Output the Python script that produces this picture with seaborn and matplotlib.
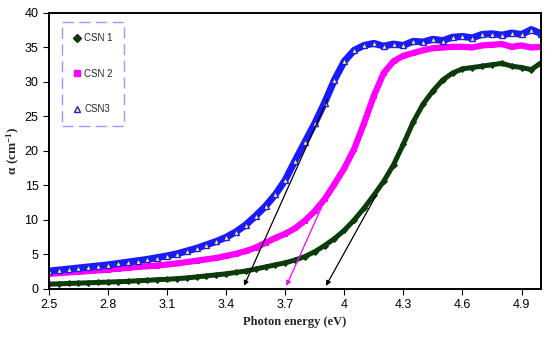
import numpy as np
import pandas as pd
import matplotlib
matplotlib.use('Agg')
import matplotlib.pyplot as plt
from matplotlib.lines import Line2D
import seaborn as sns

# photon energy grid (eV), every 0.05 eV
energy = [2.50, 2.55, 2.60, 2.65, 2.70, 2.75, 2.80, 2.85, 2.90, 2.95,
          3.00, 3.05, 3.10, 3.15, 3.20, 3.25, 3.30, 3.35, 3.40, 3.45,
          3.50, 3.55, 3.60, 3.65, 3.70, 3.75, 3.80, 3.85, 3.90, 3.95,
          4.00, 4.05, 4.10, 4.15, 4.20, 4.25, 4.30, 4.35, 4.40, 4.45,
          4.50, 4.55, 4.60, 4.65, 4.70, 4.75, 4.80, 4.85, 4.90, 4.95,
          5.00]

csn1 = [0.7, 0.75, 0.8, 0.85, 0.9, 0.95, 1.0, 1.05, 1.1, 1.2,
        1.25, 1.35, 1.4, 1.5, 1.6, 1.75, 1.9, 2.05, 2.2, 2.4,
        2.6, 2.9, 3.2, 3.5, 3.8, 4.2, 4.7, 5.4, 6.3, 7.3,
        8.5, 10.0, 11.7, 13.6, 15.6, 18.0, 21.0, 24.2, 26.8, 28.7,
        30.3, 31.3, 31.9, 32.1, 32.3, 32.5, 32.7, 32.3, 32.1, 31.8,
        32.8]

csn2 = [2.2, 2.3, 2.4, 2.5, 2.6, 2.7, 2.8, 2.95, 3.05, 3.2,
        3.3, 3.4, 3.55, 3.7, 3.9, 4.1, 4.3, 4.5, 4.8, 5.1,
        5.5, 6.0, 6.7, 7.4, 8.0, 8.8, 9.9, 11.3, 13.0, 15.2,
        17.5, 20.3, 24.0, 28.0, 31.3, 33.0, 33.8, 34.2, 34.6, 34.9,
        35.0, 35.1, 35.1, 35.0, 35.3, 35.4, 35.5, 35.1, 35.3, 35.0,
        35.1]

csn3 = [2.6, 2.75, 2.9, 3.05, 3.2, 3.35, 3.5, 3.7, 3.9, 4.1,
        4.3, 4.55, 4.8, 5.1, 5.5, 5.9, 6.4, 6.9, 7.5, 8.3,
        9.3, 10.6, 12.0, 13.7, 15.8, 18.6, 21.3, 24.0, 27.0, 30.3,
        33.0, 34.6, 35.3, 35.6, 35.2, 35.5, 35.3, 35.9, 35.8, 36.2,
        36.0, 36.5, 36.6, 36.4, 36.9, 37.0, 36.8, 37.1, 36.9, 37.6,
        37.0]

# tangent lines: (start E, start alpha) -> (band gap E, 0)
tangents = [(3.92, 27.8, 3.485, 0.1, 'black'),
            (3.89, 12.2, 3.70, 0.1, '#ff00ff'),
            (4.17, 14.0, 3.90, 0.1, 'black')]

df = pd.DataFrame({'E': energy, 'CSN 1': csn1, 'CSN 2': csn2, 'CSN3': csn3})

sns.set_style('white')
plt.rcParams['font.family'] = ['Liberation Sans', 'DejaVu Sans']
plt.rcParams['mathtext.fontset'] = 'custom'
plt.rcParams['mathtext.rm'] = 'Liberation Serif:bold'
plt.rcParams['mathtext.it'] = 'Liberation Serif:bold'
plt.rcParams['mathtext.bf'] = 'Liberation Serif:bold'

fig = plt.figure(figsize=(5.5, 3.42), dpi=100)
ax = fig.add_axes([0.089, 0.155, 0.895, 0.807])

green = '#0b3a0b'
sns.lineplot(data=df, x='E', y='CSN 1', ax=ax, color=green, lw=3.6,
             marker='D', markersize=3, markeredgecolor=green)
sns.lineplot(data=df, x='E', y='CSN 2', ax=ax, color='#ff00ff', lw=4.5,
             marker='s', markersize=3.5, markeredgecolor='#ff00ff')
sns.lineplot(data=df, x='E', y='CSN3', ax=ax, color='#1a1aff', lw=5,
             marker='^', markersize=4, markerfacecolor='#ffff33',
             markeredgecolor='#1a1aff', markeredgewidth=1)

for x0, y0, x1, y1, c in tangents:
    ax.annotate('', xy=(x1, y1), xytext=(x0, y0),
                arrowprops=dict(arrowstyle='-|>', color=c, lw=0.9,
                                mutation_scale=7))

ax.set_xlim(2.5, 5.0)
ax.set_ylim(0, 40)
ax.set_xticks([2.5, 2.8, 3.1, 3.4, 3.7, 4.0, 4.3, 4.6, 4.9])
ax.set_xticklabels(['2.5', '2.8', '3.1', '3.4', '3.7', '4', '4.3', '4.6', '4.9'])
ax.set_yticks(range(0, 41, 5))
ax.tick_params(axis='both', direction='out', length=4, width=0.8,
               labelsize=9, colors='black', bottom=True, left=True)
for s in ax.spines.values():
    s.set_color('black')
    s.set_linewidth(1.4)

ax.set_xlabel('Photon energy (eV)', family='Liberation Serif',
              fontweight='bold', fontsize=9, labelpad=3)
ax.set_ylabel(r'$\alpha\ (\mathrm{cm}^{-1})$', fontsize=9.5, labelpad=2)

handles = [Line2D([], [], ls='none', marker='D', markersize=4, color=green),
           Line2D([], [], ls='none', marker='s', markersize=5, color='#ff00ff'),
           Line2D([], [], ls='none', marker='^', markersize=5,
                  markerfacecolor='#ffff33', markeredgecolor='#1a1aff')]
leg = ax.legend(handles, ['CSN 1', 'CSN 2', 'CSN3'], loc='upper left',
                bbox_to_anchor=(0.026, 0.968), fontsize=7,
                labelspacing=2.6, handlelength=0.8, handletextpad=0.3,
                borderpad=1.2, borderaxespad=0, fancybox=False,
                framealpha=1)
frame = leg.get_frame()
frame.set_edgecolor('#9999ff')
frame.set_linestyle((0, (8, 4)))
frame.set_linewidth(1.0)

fig.savefig('out.png', dpi=100)
